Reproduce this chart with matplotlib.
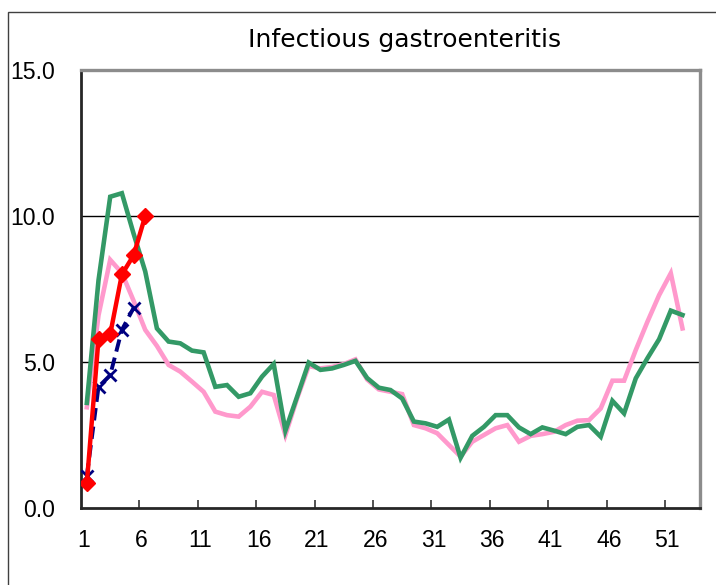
import matplotlib
matplotlib.use("Agg")
import matplotlib.pyplot as plt
from matplotlib.patches import Rectangle

plt.rcParams['font.family'] = ['Liberation Sans Narrow', 'Liberation Sans', 'DejaVu Sans']

title = "Infectious gastroenteritis"
weeks = list(range(1, 53))
pink = [3.45, 6.6, 8.5, 8.05, 7.1, 6.1, 5.55, 4.9, 4.67, 4.33, 3.98, 3.3, 3.18, 3.13,
        3.47, 3.98, 3.87, 2.5, 3.75, 4.86, 4.78, 4.83, 4.93, 5.09, 4.4, 4.06, 3.98,
        3.9, 2.84, 2.73, 2.56, 2.16, 1.76, 2.27, 2.5, 2.73, 2.84, 2.27, 2.47, 2.53,
        2.61, 2.84, 2.99, 3.01, 3.41, 4.36, 4.36, 5.41, 6.38, 7.29, 8.04, 6.15]
green = [3.6, 7.8, 10.66, 10.78, 9.4, 8.1, 6.15, 5.7, 5.64, 5.39, 5.33, 4.15, 4.21,
         3.81, 3.93, 4.5, 4.93, 2.65, 3.81, 4.98, 4.73, 4.78, 4.9, 5.04, 4.45, 4.12,
         4.04, 3.75, 2.96, 2.9, 2.78, 3.03, 1.72, 2.47, 2.78, 3.18, 3.18, 2.76, 2.53,
         2.76, 2.65, 2.53, 2.78, 2.84, 2.44, 3.67, 3.24, 4.44, 5.13, 5.78, 6.76, 6.61]
navy = [1.1, 4.15, 4.55, 6.1, 6.85]
red = [0.85, 5.8, 5.95, 8.0, 8.65, 10.0]
xtick_labels = [1, 6, 11, 16, 21, 26, 31, 36, 41, 46, 51]
yticks = [0, 5, 10, 15]

fig = plt.figure(figsize=(7.16, 5.85), dpi=100)
ax = fig.add_axes([81/716, 1-508/585, (700-81)/716, (508-70)/585])

# outer chart border (partially visible)
fig.patches.append(Rectangle((8/716, -0.1), 1.2, 1-12/585+0.1, transform=fig.transFigure,
                             fill=False, edgecolor='#404040', linewidth=1.0))

ax.plot(weeks, pink, color='#FF99CC', lw=3.3, zorder=3, solid_joinstyle='miter')
ax.plot(weeks, green, color='#339966', lw=3.3, zorder=4, solid_joinstyle='miter')
ax.plot(weeks[:len(navy)], navy, color='#000080', lw=2.8, ls=(0, (3.2, 1.6)),
        marker='x', markersize=8, markeredgewidth=2.0, zorder=5)
ax.plot(weeks[:len(red)], red, color='#FF0000', lw=3.2, marker='D', markersize=8.5,
        zorder=6)

ax.set_xlim(0.5, 53.5)
ax.set_ylim(0, 15)
for v in yticks[1:3]:
    ax.axhline(v, color='black', lw=1.0, zorder=1)

ax.set_yticks(yticks)
ax.set_yticklabels([f"{v:.1f}" for v in yticks])
ax.tick_params(axis='y', length=0, pad=19, labelsize=16.6)
ax.set_xticks([v - 0.3 for v in xtick_labels])
ax.set_xticklabels([str(v) for v in xtick_labels])
ax.set_xticks([v - 0.5 for v in xtick_labels[1:]], minor=True)
ax.tick_params(axis='x', which='major', length=0, pad=15, labelsize=16.6)
ax.tick_params(axis='x', which='minor', direction='in', length=6, width=1.2, color='#333333')

for s in ['left', 'bottom']:
    ax.spines[s].set_color('#262626')
    ax.spines[s].set_linewidth(2.0)
for s in ['top', 'right']:
    ax.spines[s].set_color('#8c8c8c')
    ax.spines[s].set_linewidth(2.4)

fig.text(405/716, 1-40/585, title, ha='center', va='center', fontsize=18,
         family='DejaVu Sans')

fig.savefig("out.png", dpi=100)
